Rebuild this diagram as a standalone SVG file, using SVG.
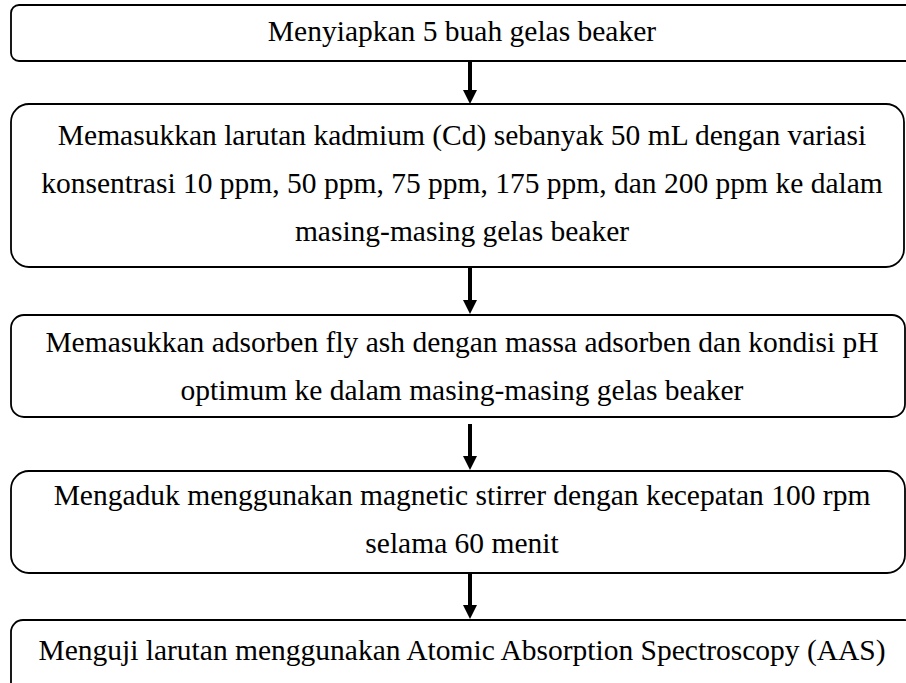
<svg xmlns="http://www.w3.org/2000/svg" width="906" height="683" viewBox="0 0 906 683">
<style>
.box{fill:#fff;stroke:#000;stroke-width:1.8}
.t{font-size:29.5px;fill:#000;text-anchor:middle}
.shaft{stroke:#000;stroke-width:4;fill:none}
.head{fill:#000}
</style>
<rect width="906" height="683" fill="#fff"/>
<g id="n1">
<rect class="box" x="11" y="5" width="905" height="56" rx="8"/>
<text class="t" font-family="Liberation Serif, Tinos, Times New Roman, DejaVu Serif, serif" x="462" y="41">Menyiapkan 5 buah gelas beaker</text>
</g>
<g id="n2">
<rect class="box" x="11" y="104" width="893" height="163" rx="18"/>
<text class="t" font-family="Liberation Serif, Tinos, Times New Roman, DejaVu Serif, serif" x="462" y="145">Memasukkan larutan kadmium (Cd) sebanyak 50 mL dengan variasi</text>
<text class="t" font-family="Liberation Serif, Tinos, Times New Roman, DejaVu Serif, serif" x="462" y="193">konsentrasi 10 ppm, 50 ppm, 75 ppm, 175 ppm, dan 200 ppm ke dalam</text>
<text class="t" font-family="Liberation Serif, Tinos, Times New Roman, DejaVu Serif, serif" x="462" y="241">masing-masing gelas beaker</text>
</g>
<g id="n3">
<rect class="box" x="11" y="315" width="894" height="102" rx="13"/>
<text class="t" font-family="Liberation Serif, Tinos, Times New Roman, DejaVu Serif, serif" x="462" y="352">Memasukkan adsorben fly ash dengan massa adsorben dan kondisi pH</text>
<text class="t" font-family="Liberation Serif, Tinos, Times New Roman, DejaVu Serif, serif" x="462" y="400">optimum ke dalam masing-masing gelas beaker</text>
</g>
<g id="n4">
<rect class="box" x="11" y="471" width="894" height="102" rx="18"/>
<text class="t" font-family="Liberation Serif, Tinos, Times New Roman, DejaVu Serif, serif" x="462" y="505">Mengaduk menggunakan magnetic stirrer dengan kecepatan 100 rpm</text>
<text class="t" font-family="Liberation Serif, Tinos, Times New Roman, DejaVu Serif, serif" x="462" y="553">selama 60 menit</text>
</g>
<g id="n5">
<rect class="box" x="11" y="620" width="905" height="80" rx="12"/>
<text class="t" font-family="Liberation Serif, Tinos, Times New Roman, DejaVu Serif, serif" x="462" y="660">Menguji larutan menggunakan Atomic Absorption Spectroscopy (AAS)</text>
</g>
<g id="connectors">
<line class="shaft" x1="470" y1="61" x2="470" y2="91"/>
<polygon class="head" points="463,90 477,90 470,104"/>
<line class="shaft" x1="470" y1="268" x2="470" y2="301"/>
<polygon class="head" points="463,300 477,300 470,314"/>
<line class="shaft" x1="470" y1="424" x2="470" y2="457"/>
<polygon class="head" points="463,456 477,456 470,470"/>
<line class="shaft" x1="470" y1="573" x2="470" y2="606"/>
<polygon class="head" points="463,605 477,605 470,619"/>
</g>
</svg>
